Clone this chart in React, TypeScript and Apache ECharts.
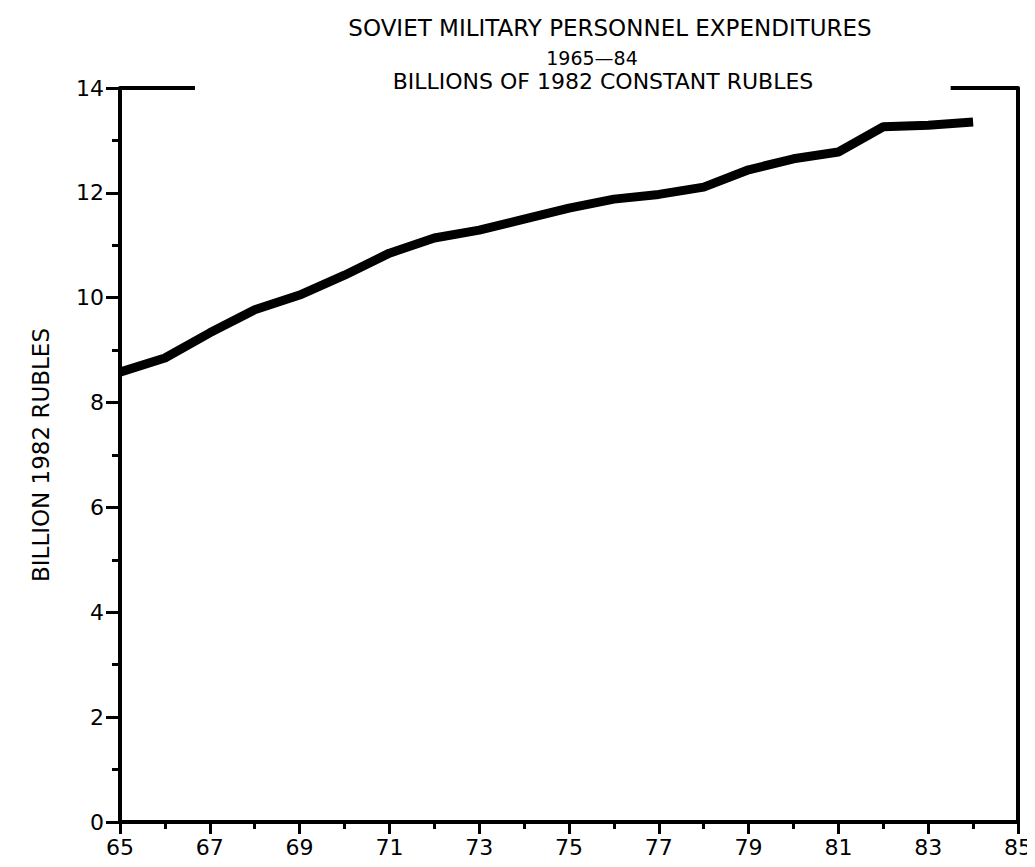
import React, { useEffect, useRef } from "react";
import * as echarts from "echarts";

const years = [65, 66, 67, 68, 69, 70, 71, 72, 73, 74, 75, 76, 77, 78, 79, 80, 81, 82, 83, 84];
const values = [8.58, 8.85, 9.33, 9.77, 10.05, 10.43, 10.85, 11.14, 11.29, 11.5, 11.71, 11.88, 11.97, 12.11, 12.44, 12.65, 12.78, 13.26, 13.29, 13.35];
const titleLines = ["SOVIET MILITARY PERSONNEL EXPENDITURES", "1965\u201484", "BILLIONS OF 1982 CONSTANT RUBLES"];
const yName = "BILLION 1982 RUBLES";
const topLeftSegment = [65, 66.67];
const topRightSegment = [83.5, 85];

const FONT = "'DejaVu Sans', sans-serif";

export default function App() {
  const ref = useRef<HTMLDivElement>(null);
  useEffect(() => {
    const chart = echarts.init(ref.current!, null, { renderer: "svg" });
    const option: any = {
      animation: false,
      backgroundColor: "#fff",
      graphic: [
        { type: "text", x: 610, y: 28, style: { text: titleLines[0], font: `23px ${FONT}`, fill: "#000", textAlign: "center", textVerticalAlign: "middle" } },
        { type: "text", x: 592, y: 58, style: { text: titleLines[1], font: `19px ${FONT}`, fill: "#000", textAlign: "center", textVerticalAlign: "middle" } },
        { type: "text", x: 603, y: 81, style: { text: titleLines[2], font: `22px ${FONT}`, fill: "#000", textAlign: "center", textVerticalAlign: "middle" } },
      ],
      grid: { left: 120, right: 17, top: 88, bottom: 45, containLabel: false },
      xAxis: {
        type: "value",
        min: 65,
        max: 85,
        interval: 2,
        axisLine: { show: true, lineStyle: { color: "#000", width: 4 } },
        axisTick: { show: true, length: 12, lineStyle: { color: "#000", width: 3 } },
        minorTick: { show: true, splitNumber: 2, length: 7, lineStyle: { color: "#000", width: 3 } },
        axisLabel: { color: "#000", fontSize: 22, fontFamily: FONT, margin: 14 },
        splitLine: { show: false },
      },
      yAxis: [
        {
          type: "value",
          min: 0,
          max: 14,
          interval: 2,
          name: yName,
          nameLocation: "middle",
          nameGap: 68,
          nameRotate: 90,
          nameTextStyle: { color: "#000", fontSize: 23, fontFamily: FONT },
          axisLine: { show: true, lineStyle: { color: "#000", width: 4 } },
          axisTick: { show: true, length: 14, lineStyle: { color: "#000", width: 3 } },
          minorTick: { show: true, splitNumber: 2, length: 8, lineStyle: { color: "#000", width: 3 } },
          axisLabel: { color: "#000", fontSize: 22, fontFamily: FONT, margin: 16 },
          splitLine: { show: false },
        },
        {
          type: "value",
          min: 0,
          max: 14,
          interval: 2,
          position: "right",
          axisLine: { show: true, lineStyle: { color: "#000", width: 4 } },
          axisTick: { show: false },
          axisLabel: { show: false },
          splitLine: { show: false },
        },
      ],
      series: [
        {
          type: "line",
          data: years.map((y, i) => [y, values[i]]),
          showSymbol: false,
          symbol: "none",
          lineStyle: { color: "#000", width: 9, cap: "butt", join: "round" },
          markLine: {
            silent: true,
            symbol: "none",
            label: { show: false },
            lineStyle: { color: "#000", width: 4, type: "solid" },
            data: [
              [{ coord: [topLeftSegment[0], 14] }, { coord: [topLeftSegment[1], 14] }],
              [{ coord: [topRightSegment[0], 14] }, { coord: [topRightSegment[1], 14] }],
            ],
          },
        },
      ],
    };
    chart.setOption(option);
    return () => chart.dispose();
  }, []);
  return <div ref={ref} style={{ width: 1035, height: 867, margin: -8 }} />;
}
